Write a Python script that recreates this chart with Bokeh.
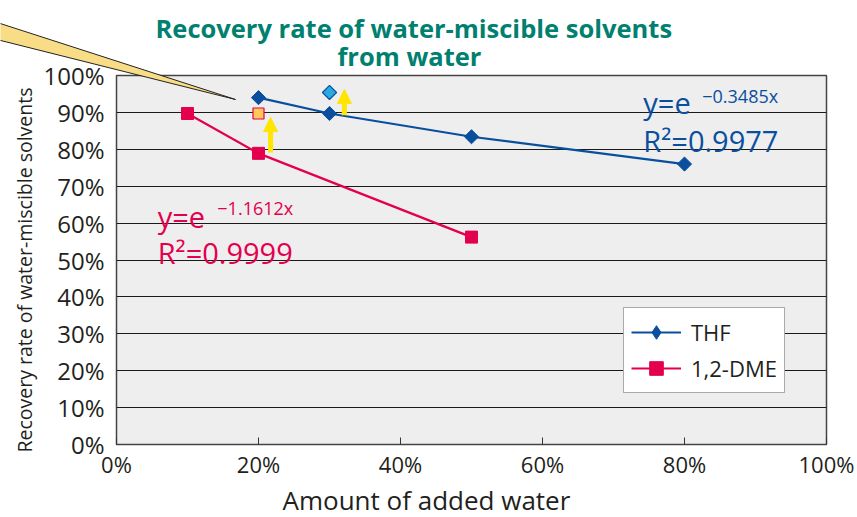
from bokeh.plotting import figure
from bokeh.models import (Range1d, FixedTicker, NumeralTickFormatter, Label, Legend, LegendItem,
                          Arrow, NormalHead, Title)
from bokeh.embed import file_html
from bokeh.resources import INLINE
import math

# ---- data ----
thf_x = [0.2, 0.3, 0.5, 0.8]
thf_y = [0.94, 0.897, 0.834, 0.76]
dme_x = [0.1, 0.2, 0.5]
dme_y = [0.897, 0.789, 0.562]
# improved (highlighted) points
dme_hi_x = [0.2]
dme_hi_y = [0.897]
thf_hi_x = [0.3]
thf_hi_y = [0.954]
# improvement arrows (x, y_from, y_to)
arrow_x = [0.217, 0.321]
arrow_y0 = [0.791, 0.892]
arrow_y1 = [0.886, 0.962]
# callout wedge
wedge_x = [-0.18, 0.1676, -0.18]
wedge_y = [1.151, 0.935, 1.103]

x_ticks = [0.0, 0.2, 0.4, 0.6, 0.8, 1.0]
y_ticks = [i / 10 for i in range(11)]

FONT = "Open Sans"
BLUE = "#0a4f9e"
PINK = "#e2004f"
TEAL = "#00806f"
INK = "#231f20"

p = figure(width=857, height=517, output_backend="svg", toolbar_location=None,
           x_range=Range1d(0, 1), y_range=Range1d(0, 1),
           min_border_left=116, min_border_right=31, min_border_top=75, min_border_bottom=73)
p.border_fill_color = "white"
p.background_fill_color = "#eeeeee"
p.outline_line_color = "#444444"
p.outline_line_width = 1.5

p.xgrid.grid_line_color = None
p.ygrid.ticker = FixedTicker(ticks=y_ticks)
p.ygrid.grid_line_color = "#1a1a1a"
p.ygrid.grid_line_width = 1.2

p.xaxis.ticker = FixedTicker(ticks=x_ticks)
p.yaxis.ticker = FixedTicker(ticks=y_ticks)
p.xaxis.formatter = NumeralTickFormatter(format="0%")
p.yaxis.formatter = NumeralTickFormatter(format="0%")
for ax in (p.xaxis[0], p.yaxis[0]):
    ax.axis_line_color = None
    ax.minor_tick_line_color = None
    ax.major_label_text_font = FONT
    ax.major_label_text_color = INK
p.xaxis.major_label_text_font_size = "22px"
p.yaxis.major_label_text_font_size = "24px"
p.xaxis.major_tick_in = 7
p.xaxis.major_tick_out = 0
p.xaxis.major_tick_line_color = "#333333"
p.xaxis.major_label_standoff = 4
p.yaxis.major_tick_line_color = None
p.yaxis.major_tick_in = 0
p.yaxis.major_tick_out = 0
p.yaxis.major_label_standoff = 12

# titles (first added sits nearest the plot)
p.add_layout(Title(text="from water", align="left", offset=221, text_font=FONT,
                   text_font_size="25.5px", text_font_style="bold", text_color=TEAL,
                   standoff=6), "above")
p.add_layout(Title(text="Recovery rate of water-miscible solvents", align="left", offset=39,
                   text_font=FONT, text_font_size="25.5px", text_font_style="bold",
                   text_color=TEAL, standoff=-22), "above")
p.add_layout(Title(text="Amount of added water", align="left", offset=166, text_font=FONT,
                   text_font_size="26px", text_font_style="normal", text_color=INK,
                   standoff=-3), "below")
p.add_layout(Title(text="Recovery rate of water-miscible solvents", align="left", offset=-8,
                   text_font=FONT, text_font_size="19.5px", text_font_style="normal",
                   text_color=INK, standoff=6), "left")

# series
thf_line = p.line(thf_x, thf_y, line_color=BLUE, line_width=2.2)
thf_key = p.scatter(thf_x, thf_y, marker="diamond", size=12, fill_color=BLUE, line_color=BLUE)
p.scatter(thf_x, thf_y, marker="square", size=10, angle=math.pi / 4,
          fill_color=BLUE, line_color=BLUE)
dme_line = p.line(dme_x, dme_y, line_color=PINK, line_width=2.2)
dme_pts = p.scatter(dme_x, dme_y, marker="square", size=12, fill_color=PINK, line_color=PINK)

p.scatter(dme_hi_x, dme_hi_y, marker="square", size=11, fill_color="#ffc85a", line_color=PINK,
          line_width=1.2)
p.scatter(thf_hi_x, thf_hi_y, marker="square", size=10, angle=math.pi / 4,
          fill_color="#2aa8e0", line_color=BLUE, line_width=1.2)

for ax_, a0, a1 in zip(arrow_x, arrow_y0, arrow_y1):
    p.add_layout(Arrow(x_start=ax_, y_start=a0, x_end=ax_, y_end=a1,
                       line_color="#ffe500", line_width=5,
                       end=NormalHead(size=14, fill_color="#ffe500", line_color="#ffe500")))

# equations
def lab(x, y, text, color, size, **kw):
    p.add_layout(Label(x=x, y=y, text=text, text_color=color, text_font=FONT,
                       text_font_size=size, text_baseline="alphabetic", **kw))

lab(0.742, 0.927, "y=e", BLUE, "29px")
lab(0.825, 0.945, "\u22120.3485x", BLUE, "18px")
lab(0.742, 0.824, "R\u00b2=0.9977", BLUE, "29px")
lab(0.058, 0.618, "y=e", PINK, "29px")
lab(0.142, 0.642, "\u22121.1612x", PINK, "18px")
lab(0.058, 0.520, "R\u00b2=0.9999", PINK, "29px")

legend = Legend(items=[LegendItem(label="THF", renderers=[thf_line, thf_key]),
                       LegendItem(label="1,2-DME", renderers=[dme_line, dme_pts])],
                location=(507, 51))
legend.label_text_font = FONT
legend.label_text_font_size = "22px"
legend.label_text_color = INK
legend.glyph_width = 50
legend.glyph_height = 34
legend.label_height = 30
legend.spacing = 2
legend.padding = 7
legend.margin = 0
legend.label_standoff = 10
legend.border_line_color = "#555555"
legend.border_line_width = 1.2
legend.background_fill_color = "white"
legend.background_fill_alpha = 1.0
p.add_layout(legend)

# callout wedge overlay (extends outside the plot area, top-left)
ov = figure(width=240, height=105, output_backend="svg", toolbar_location=None,
            x_range=Range1d((0 - 116) / 710, (240 - 116) / 710),
            y_range=Range1d((444 - 105) / 369, 444 / 369),
            x_axis_type=None, y_axis_type=None, min_border=0,
            styles={"position": "absolute", "left": "0px", "top": "0px"})
ov.grid.visible = False
ov.outline_line_color = None
ov.background_fill_alpha = 0
ov.border_fill_alpha = 0
ov.patch(wedge_x, wedge_y, fill_color="#f8dc86", line_color="#222222", line_width=1)

open("out.html", "w").write(file_html([p, ov], INLINE))
